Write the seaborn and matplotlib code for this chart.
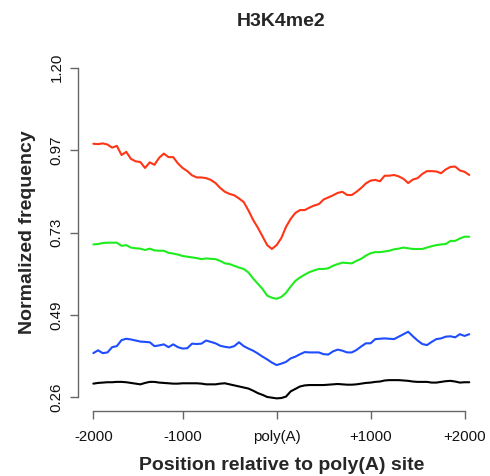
import numpy as np
import pandas as pd
import matplotlib
matplotlib.use("Agg")
import matplotlib.pyplot as plt
import seaborn as sns

# ---- data (81 bins from -2000 to +2000) ----
bin_index = list(range(1, 82))
tick_positions = [1, 20, 40, 60, 80]
tick_labels = ["-2000", "-1000", "poly(A)", "+1000", "+2000"]
y_ticks = [0.26, 0.495, 0.73, 0.965, 1.20]
y_tick_labels = ["0.26", "0.49", "0.73", "0.97", "1.20"]

red_values = [0.983, 0.982, 0.984, 0.981, 0.972, 0.977, 0.951, 0.960, 0.940, 0.933,
              0.931, 0.914, 0.930, 0.923, 0.943, 0.955, 0.945, 0.945, 0.927, 0.914,
              0.905, 0.893, 0.887, 0.887, 0.885, 0.880, 0.871, 0.857, 0.846, 0.840,
              0.836, 0.827, 0.817, 0.793, 0.766, 0.744, 0.719, 0.694, 0.683, 0.694,
              0.714, 0.746, 0.769, 0.786, 0.794, 0.794, 0.801, 0.807, 0.811, 0.824,
              0.830, 0.836, 0.843, 0.846, 0.837, 0.837, 0.846, 0.857, 0.870, 0.878,
              0.880, 0.876, 0.892, 0.892, 0.894, 0.890, 0.883, 0.871, 0.881, 0.885,
              0.897, 0.905, 0.905, 0.904, 0.899, 0.910, 0.917, 0.918, 0.907, 0.903,
              0.894]
green_values = [0.696, 0.697, 0.700, 0.701, 0.701, 0.701, 0.692, 0.694, 0.687, 0.685,
                0.684, 0.680, 0.684, 0.679, 0.678, 0.678, 0.672, 0.670, 0.667, 0.663,
                0.661, 0.659, 0.657, 0.654, 0.656, 0.655, 0.654, 0.649, 0.642, 0.640,
                0.635, 0.630, 0.626, 0.616, 0.599, 0.584, 0.569, 0.550, 0.544, 0.541,
                0.546, 0.558, 0.576, 0.592, 0.602, 0.610, 0.617, 0.622, 0.626, 0.626,
                0.628, 0.635, 0.640, 0.644, 0.643, 0.642, 0.649, 0.655, 0.664, 0.671,
                0.674, 0.674, 0.676, 0.678, 0.682, 0.684, 0.687, 0.685, 0.683, 0.683,
                0.683, 0.687, 0.691, 0.694, 0.696, 0.697, 0.706, 0.706, 0.713, 0.718,
                0.718]
blue_values = [0.386, 0.394, 0.386, 0.388, 0.403, 0.406, 0.423, 0.427, 0.425, 0.422,
               0.419, 0.418, 0.417, 0.406, 0.408, 0.411, 0.403, 0.411, 0.403, 0.399,
               0.400, 0.413, 0.412, 0.413, 0.422, 0.418, 0.414, 0.407, 0.404, 0.402,
               0.406, 0.417, 0.406, 0.399, 0.393, 0.385, 0.376, 0.368, 0.359, 0.352,
               0.356, 0.361, 0.371, 0.376, 0.383, 0.389, 0.388, 0.388, 0.388, 0.383,
               0.382, 0.391, 0.396, 0.393, 0.388, 0.388, 0.395, 0.405, 0.414, 0.414,
               0.426, 0.427, 0.428, 0.427, 0.426, 0.433, 0.440, 0.447, 0.434, 0.422,
               0.412, 0.409, 0.418, 0.426, 0.428, 0.433, 0.434, 0.431, 0.440, 0.435,
               0.440]
black_values = [0.299, 0.301, 0.302, 0.303, 0.303, 0.304, 0.304, 0.303, 0.301, 0.299,
                0.297, 0.301, 0.304, 0.304, 0.302, 0.301, 0.300, 0.299, 0.299, 0.300,
                0.300, 0.300, 0.300, 0.299, 0.297, 0.297, 0.297, 0.299, 0.300, 0.297,
                0.294, 0.291, 0.288, 0.285, 0.279, 0.272, 0.267, 0.261, 0.259, 0.257,
                0.258, 0.262, 0.277, 0.284, 0.291, 0.294, 0.295, 0.295, 0.295, 0.295,
                0.296, 0.297, 0.298, 0.297, 0.296, 0.296, 0.297, 0.299, 0.301, 0.302,
                0.304, 0.305, 0.308, 0.309, 0.309, 0.309, 0.308, 0.307, 0.305, 0.304,
                0.304, 0.304, 0.302, 0.302, 0.304, 0.306, 0.307, 0.305, 0.302, 0.303,
                0.303]

series_names = ["red", "green", "blue", "black"]
series_colors = {"red": "#ff3516", "green": "#1eec1e", "blue": "#1e4cff", "black": "#000000"}

frames = []
for name, vals in zip(series_names, [red_values, green_values, blue_values, black_values]):
    frames.append(pd.DataFrame({"pos": bin_index, "freq": vals, "series": name}))
df = pd.concat(frames, ignore_index=True)

# ---- styling ----
sns.set_theme(style="white")
plt.rcParams["font.family"] = ["Liberation Sans", "DejaVu Sans"]

W, H = 490, 476
fig = plt.figure(figsize=(W / 100, H / 100), dpi=100)
left, right, top, bottom = 78.3, 484.3, 54.5, 410.5
ax = fig.add_axes([left / W, 1 - bottom / H, (right - left) / W, (bottom - top) / H])

sns.lineplot(data=df, x="pos", y="freq", hue="series", palette=series_colors,
             hue_order=series_names, legend=False, linewidth=1.5, ax=ax, sort=False)

ax.set_xlim(-2.2, 84.2)
ax.set_ylim(0.2224, 1.2376)
ax.set_xlabel("")
ax.set_ylabel("")

axis_col = "#666666"
for s in ["top", "right"]:
    ax.spines[s].set_visible(False)
ax.spines["left"].set_bounds(0.26, 1.20)
ax.spines["bottom"].set_bounds(1, 80)
for s in ["left", "bottom"]:
    ax.spines[s].set_color(axis_col)
    ax.spines[s].set_linewidth(1.0)

ax.set_xticks(tick_positions)
ax.set_xticklabels(tick_labels)
ax.set_yticks(y_ticks)
ax.set_yticklabels(y_tick_labels, rotation=90, va="center")
ax.tick_params(axis="both", direction="out", length=5.5, width=1.0, color=axis_col,
               labelsize=10.8, labelcolor="#111111")
ax.tick_params(axis="x", pad=8.5, bottom=True)
ax.tick_params(axis="y", pad=5, left=True)
ax.grid(False)

fig.text(281.3 / W, 1 - 22 / H, "H3K4me2", ha="center", va="center",
         fontsize=14, fontweight="bold")
fig.text(281.3 / W, 1 - 465 / H, "Position relative to poly(A) site", ha="center",
         va="center", fontsize=14, fontweight="bold")
fig.text(27 / W, 1 - 232.5 / H, "Normalized frequency", ha="center", va="center",
         rotation=90, fontsize=14, fontweight="bold")

fig.savefig("out.png", dpi=100, facecolor="white")
